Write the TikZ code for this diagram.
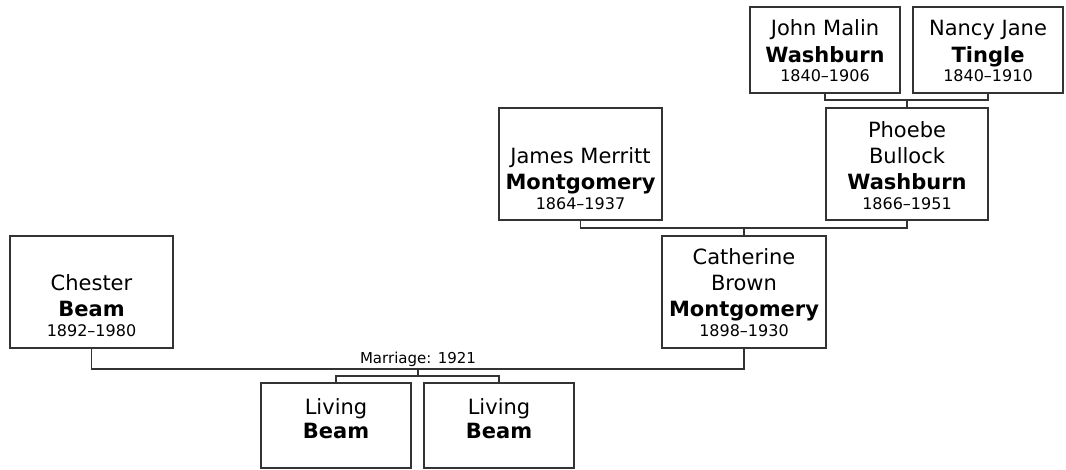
\documentclass[tikz,border=0pt]{standalone}
\usepackage{fontspec}
\setmainfont{DejaVu Sans}
\usetikzlibrary{calc}
\definecolor{linec}{HTML}{333333}
\tikzset{
  pbox/.style={draw=linec, line width=1.6pt, fill=white, inner sep=0pt},
  gen1/.style={pbox, minimum width=150pt, minimum height=86pt},
  gen2/.style={pbox, minimum width=163pt, minimum height=112pt},
  kid/.style={pbox, minimum width=150pt, minimum height=85pt},
  nm/.style={anchor=base, inner sep=0pt, font=\fontsize{21}{25}\selectfont},
  sn/.style={anchor=base, inner sep=0pt, font=\fontsize{21}{25}\selectfont\bfseries},
  dt/.style={anchor=base, inner sep=0pt, font=\fontsize{16}{19}\selectfont},
  lbl/.style={anchor=base, inner sep=0pt, font=\fontsize{15}{18}\selectfont},
  conn/.style={draw=linec, line width=1.6pt}
}
\begin{document}
\begin{tikzpicture}[x=1pt,y=-1pt]
\useasboundingbox (0,0) rectangle (1066,470);
% boxes
\node[gen1] (john) at (825,50) {};
\node[gen1] (nancy) at (988,50) {};
\node[gen2] (james) at (580.5,164) {};
\node[gen2, minimum width=162pt] (phoebe) at (907,164) {};
\node[gen2] (chester) at (91.5,292) {};
\node[gen2, minimum width=164pt] (cath) at (744,292) {};
\node[kid] (kid1) at (336,425.5) {};
\node[kid] (kid2) at (499,425.5) {};
% texts
\node[nm] (johnA) at (825,36) {John Malin};
\node[sn] (johnB) at (825,63) {Washburn};
\node[dt] (johnC) at (825,82) {1840–1906};
\node[nm] (nancyA) at (988,36) {Nancy Jane};
\node[sn] (nancyB) at (988,63) {Tingle};
\node[dt] (nancyC) at (988,82) {1840–1910};
\node[nm] (jamesA) at (580.5,163.5) {James Merritt};
\node[sn] (jamesB) at (580.5,190) {Montgomery};
\node[dt] (jamesC) at (580.5,210) {1864–1937};
\node[nm] (phoebeA) at (907,137.5) {Phoebe};
\node[nm] (phoebeB) at (907,163.5) {Bullock};
\node[sn] (phoebeC) at (907,190) {Washburn};
\node[dt] (phoebeD) at (907,210) {1866–1951};
\node[nm] (chesterA) at (91.5,291) {Chester};
\node[sn] (chesterB) at (91.5,317) {Beam};
\node[dt] (chesterC) at (91.5,337) {1892–1980};
\node[nm] (cathA) at (744,265) {Catherine};
\node[nm] (cathB) at (744,291) {Brown};
\node[sn] (cathC) at (744,317) {Montgomery};
\node[dt] (cathD) at (744,337) {1898–1930};
\node[nm] (kid1A) at (336,414.5) {Living};
\node[sn] (kid1B) at (336,438.5) {Beam};
\node[nm] (kid2A) at (499,414.5) {Living};
\node[sn] (kid2B) at (499,438.5) {Beam};
\node[lbl] (marr) at (418,363) {Marriage: 1921};
% connectors
\coordinate (jn) at (907,100);
\draw[conn] (john.south) |- (jn) -| (nancy.south);
\draw[conn] (jn) -- (phoebe.north);
\coordinate (jp) at (744,228);
\draw[conn] (james.south) |- (jp) -| (phoebe.south);
\draw[conn] (jp) -- (cath.north);
\coordinate (cc) at (418,369);
\draw[conn] (chester.south) |- (cc) -| (cath.south);
\coordinate (kc) at (418,376);
\draw[conn] (cc) -- (kc);
\draw[conn] (kid1.north) |- (kc) -| (kid2.north);
\end{tikzpicture}
\end{document}
